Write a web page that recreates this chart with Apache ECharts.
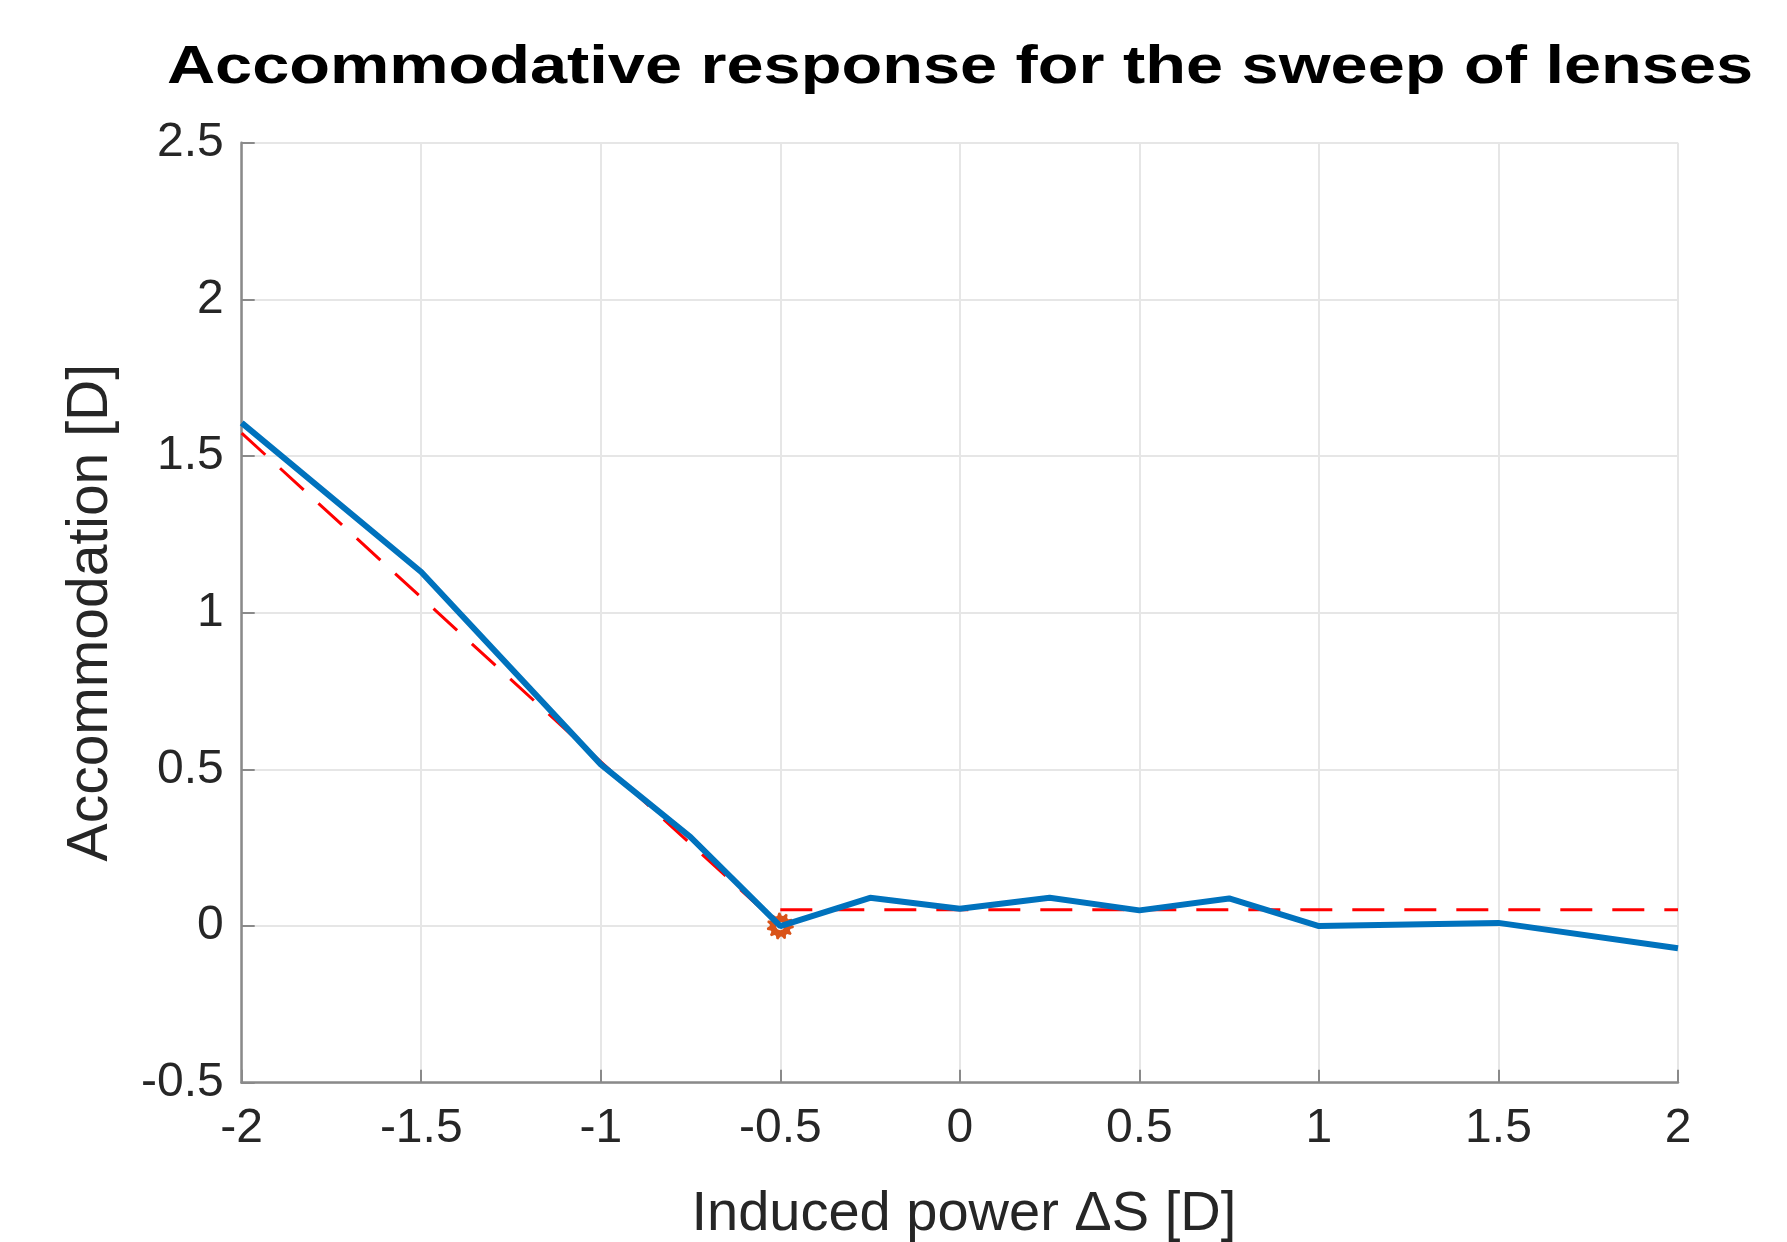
<!DOCTYPE html>
<html>
<head>
<meta charset="utf-8">
<script src="https://cdn.jsdelivr.net/npm/echarts@6/dist/echarts.min.js"></script>
<style>
html,body{margin:0;padding:0;background:#fff;}
#chart{position:absolute;left:0;top:0;width:1787px;height:1242px;}
</style>
</head>
<body>
<div id="chart"></div>
<script>
// Data
const inducedPower = [-2, -1.5, -1, -0.75, -0.5, -0.25, 0, 0.25, 0.5, 0.75, 1, 1.5, 2];
const accommodation = [1.606, 1.13, 0.516, 0.284, 0, 0.09, 0.055, 0.09, 0.05, 0.088, 0, 0.01, -0.071];
const fitSlopeX = [-2, -0.5];
const fitSlopeY = [1.573, 0];
const fitFlatX = [-0.5, 2];
const fitFlatY = [0.052, 0.052];
const breakX = [-0.5];
const breakY = [0];
const xTicks = [-2, -1.5, -1, -0.5, 0, 0.5, 1, 1.5, 2];
const yTicks = [-0.5, 0, 0.5, 1, 1.5, 2, 2.5];
const titleText = 'Accommodative response for the sweep of lenses';

const zip = (xs, ys) => xs.map((x, i) => [x, ys[i]]);
const FONT = "'Liberation Sans', Arial, Helvetica, sans-serif";

// gear-shaped marker symbol (ring with teeth)
function gearPath(teeth, rOut, rIn, rHole) {
  let d = '';
  const n = teeth * 4;
  for (let i = 0; i < n; i++) {
    const a = (i / n) * Math.PI * 2;
    const r = (i % 4 < 2) ? rOut : rIn;
    const x = (r * Math.cos(a)).toFixed(3), y = (r * Math.sin(a)).toFixed(3);
    d += (i === 0 ? 'M' : 'L') + x + ' ' + y + ' ';
  }
  d += 'Z ';
  const m = 32;
  for (let i = 0; i <= m; i++) {
    const a = -(i / m) * Math.PI * 2;
    const x = (rHole * Math.cos(a)).toFixed(3), y = (rHole * Math.sin(a)).toFixed(3);
    d += (i === 0 ? 'M' : 'L') + x + ' ' + y + ' ';
  }
  d += 'Z';
  return 'path://' + d;
}

const chart = echarts.init(document.getElementById('chart'), null, {renderer: 'canvas', width: 1787, height: 1242});
chart.setOption({
  animation: false,
  backgroundColor: '#ffffff',
  graphic: [{
    type: 'text', x: 960, y: 41, scaleX: 1.235, originX: 0, z: 10,
    style: {
      text: titleText, align: 'center', verticalAlign: 'top',
      font: 'bold 54px ' + FONT, fill: '#000'
    }
  }],
  grid: {left: 241.7, right: 109, top: 142.7, bottom: 159.3, containLabel: false, outerBoundsMode: 'none'},
  xAxis: {
    type: 'value', min: xTicks[0], max: xTicks[xTicks.length - 1], interval: 0.5,
    name: 'Induced power ΔS [D]', nameLocation: 'middle', nameGap: 104,
    nameTextStyle: {fontFamily: FONT, fontSize: 56, color: '#262626', padding: [0, 0, 0, 8]},
    axisLine: {show: true, onZero: false, lineStyle: {color: '#8a8a8a', width: 2.5}},
    axisTick: {show: true, inside: true, length: 13, lineStyle: {color: '#8a8a8a', width: 2}},
    axisLabel: {fontFamily: FONT, fontSize: 48, color: '#262626', margin: 22,
      formatter: v => String(v)},
    splitLine: {show: true, lineStyle: {color: '#e6e6e6', width: 2}}
  },
  yAxis: {
    type: 'value', min: yTicks[0], max: yTicks[yTicks.length - 1], interval: 0.5,
    name: 'Accommodation [D]', nameLocation: 'middle', nameGap: 122,
    nameTextStyle: {fontFamily: FONT, fontSize: 57, color: '#262626'},
    axisLine: {show: true, onZero: false, lineStyle: {color: '#8a8a8a', width: 2.5}},
    axisTick: {show: true, inside: true, length: 13, lineStyle: {color: '#8a8a8a', width: 2}},
    axisLabel: {fontFamily: FONT, fontSize: 48, color: '#262626', margin: 18,
      formatter: v => String(v)},
    splitLine: {show: true, lineStyle: {color: '#e6e6e6', width: 2}}
  },
  series: [
    {
      type: 'scatter', data: zip(breakX, breakY), symbol: gearPath(11, 1, 0.78, 0.3),
      symbolSize: 27, z: 2,
      itemStyle: {color: '#D95319', opacity: 1}
    },
    {
      type: 'line', data: zip(fitSlopeX, fitSlopeY), symbol: 'none', z: 3,
      lineStyle: {color: '#ff0000', width: 3, type: [32, 20]}
    },
    {
      type: 'line', data: zip(fitFlatX, fitFlatY), symbol: 'none', z: 3,
      lineStyle: {color: '#ff0000', width: 3, type: [32, 20]}
    },
    {
      type: 'line', data: zip(inducedPower, accommodation), symbol: 'none', z: 5,
      lineStyle: {color: '#0072BD', width: 6}
    }
  ]
});
</script>
</body>
</html>
